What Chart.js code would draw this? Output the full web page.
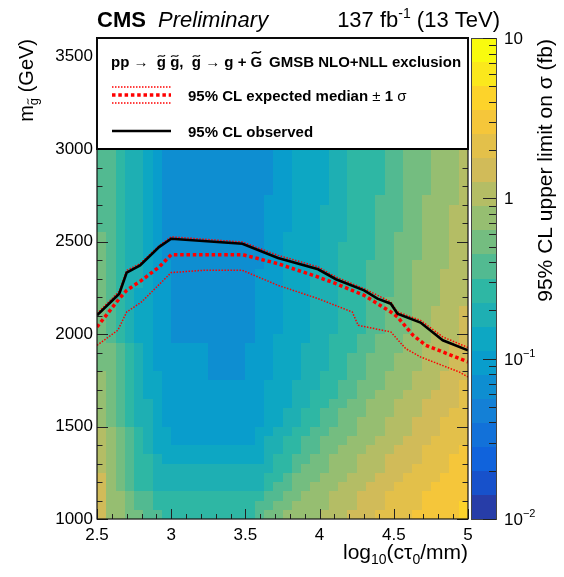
<!DOCTYPE html>
<html>
<head>
<meta charset="utf-8">
<title>Gluino lifetime limit</title>
<script src="https://cdn.jsdelivr.net/npm/chart.js@4.4.1/dist/chart.umd.min.js"></script>
<style>
  html, body { margin: 0; padding: 0; background: #fff; }
  canvas { display: block; }
</style>
</head>
<body>
<canvas id="limitChart" width="564" height="577"></canvas>
<script>
// axis ranges
const ctauRange = [2.5, 5];        // log10(ctau0/mm)
const massRange = [1000, 3000];    // heat map extent, GeV
const massAxisMax = 3600;
const massTicks = [1000, 1500, 2000, 2500, 3000, 3500];
const sigmaRange = [0.01, 10];     // colour axis, fb
const nBands = 20;
const bandDigits = "0123456789ABCDEFGHIJ";

// upper limit read off the picture as colour band (0 = lowest .. J = highest),
// one string per 50 GeV row (bottom row first), one char per 0.0625 in log10(ctau)
const limitBandRows = [
  "ECCBBAA9999999999ABBCCCCDDDEEEFFFFGGGGGH",
  "ECCBAA99999999999AABBCCCCDDDEEEFFFFGGGGH",
  "ECCBAA999999999999AABBCCCDDDEEEFFFFGGGGG",
  "ECBA998888888888889AABBCCCDDDEEEFFFFGGGG",
  "ECBA9988888888888899ABBBCCCDDDEEEFFFFGGG",
  "DCBA99888888888888899ABBBCCCDDDEEEFFFFGG",
  "DCBA99877777777777899AABBCCCDDDEEEEFFFGG",
  "DCBA987777777777778899AABBCCCDDDEEEFFFFG",
  "DCBA987766666666678899AABBBCCCDDDEEEFFFF",
  "DCBA9877666666666778899AABBBCCCDDDEEEFFF",
  "CBA988766666666666778899AABBCCCDDDEEEFFF",
  "CBA988766666666666778899AABBBCCCDDDEEEFF",
  "CBA9887666666666667778899AABBCCCDDDEEEEF",
  "CBA98776666666666677788999AABBCCCDDDEEEF",
  "CBA98776666666666677788899AABBBCCCDDDEEF",
  "CBA987766666555566677788999AABBCCCDDDEEE",
  "BBA987666666555566677788899AABBBCCCDDDEE",
  "BBA987666666555566677788899AABBBCCCDDDEE",
  "BBA9876666665555666777888999AABBBCCDDDEE",
  "BA98776655555555566777788999AABBBCCCDDDE",
  "BA987766555555555666777888999AABBBCCDDDE",
  "BA987766555555555666777888999AABBBCCDDDE",
  "BA987766555555555666777888999AABBBCCDDDE",
  "BA987766555555555666777888999AABBBCCCDDD",
  "BA987766555555555666777888999AAABBCCCDDD",
  "BA988766555555555666777888999AAABBCCCDDD",
  "BA988766555555555666777888999AAABBCCCDDD",
  "BA988766555555555566777788999AAABBCCCCDD",
  "BA9887655555555555667777889999AABBBCCCDD",
  "BA9887655555555555667777889999AABBBCCCDD",
  "BA9887655555555555667777888999AABBBCCCDD",
  "AA9887655555555555666777888999AAABBCCCDD",
  "AA9887655555555555666777888999AAABBCCCDD",
  "AA9887655555555555666777888999AAABBCCCDD",
  "AA9887655555555555666777788999AAABBCCCCD",
  "AA98876555555555555667777889999AABBBCCCD",
  "AA98876555555555555667777889999AABBBCCCD",
  "AA98876555555555555667777889999AABBBCCCD",
  "AA98876555555555555667777889999AABBBCCCD",
  "AA98876555555555555667777889999AABBBCCCD"
];

// exclusion contours
const obsCtau = [2.5, 2.65, 2.7, 2.79, 2.92, 3.0, 3.48, 3.72, 3.99, 4.11, 4.3, 4.39, 4.48, 4.525, 4.68, 4.83, 5.0];
const obsMass = [2101, 2218, 2332, 2371, 2471, 2515, 2488, 2411, 2350, 2296, 2236, 2191, 2164, 2110, 2062, 1966, 1912];

const expCtau = [2.5, 2.65, 2.7, 2.8, 2.92, 3.0, 3.48, 3.72, 3.99, 4.11, 4.3, 4.48, 4.525, 4.63, 4.715, 4.83, 5.0];
const expMass = [2038, 2191, 2236, 2290, 2363, 2429, 2429, 2380, 2308, 2272, 2209, 2119, 2092, 1993, 1939, 1903, 1849];

const expUpCtau = [2.5, 2.65, 2.7, 2.79, 2.92, 3.0, 3.48, 3.72, 3.99, 4.11, 4.3, 4.48, 4.525, 4.68, 4.83, 5.0];
const expUpMass = [2110, 2231, 2344, 2380, 2479, 2525, 2497, 2425, 2363, 2308, 2245, 2173, 2119, 2074, 1984, 1927];

const expDnCtau = [2.5, 2.64, 2.7, 2.8, 3.0, 3.21, 3.48, 3.72, 3.99, 4.22, 4.26, 4.48, 4.58, 4.68, 4.94, 5.0];
const expDnMass = [1939, 2020, 2119, 2173, 2332, 2344, 2344, 2263, 2191, 2119, 2047, 2011, 1921, 1876, 1795, 1768];

const FONT = "'Liberation Sans', Arial, Helvetica, sans-serif";
const RED = "#ff0000";

// ROOT kBird palette
const birdStops = [0, 0.125, 0.25, 0.375, 0.5, 0.625, 0.75, 0.875, 1];
const birdR = [0.2082, 0.0592, 0.0780, 0.0232, 0.1802, 0.5301, 0.8186, 0.9956, 0.9764];
const birdG = [0.1664, 0.3599, 0.5041, 0.6419, 0.7178, 0.7492, 0.7328, 0.7862, 0.9832];
const birdB = [0.5293, 0.8684, 0.8385, 0.7914, 0.6425, 0.4662, 0.3499, 0.1968, 0.0539];

function birdColor(t) {
  let i = 0;
  while (i < birdStops.length - 2 && t > birdStops[i + 1]) i++;
  const f = (t - birdStops[i]) / (birdStops[i + 1] - birdStops[i]);
  const mix = (arr) => Math.round(255 * (arr[i] + f * (arr[i + 1] - arr[i])));
  return `rgb(${mix(birdR)},${mix(birdG)},${mix(birdB)})`;
}

// fraction along the colour axis -> colour of its contour band
function bandColor(frac) {
  const band = Math.min(nBands - 1, Math.max(0, Math.floor(frac * nBands + 1e-6)));
  const idx = Math.floor((band + 0.99) * 255 / nBands);
  return birdColor(idx / 254);
}

function bandValue(ch) {
  const L = bandDigits.indexOf(ch);
  return Math.pow(10, -2 + 3 * (L + 0.5) / nBands);
}

const toPoints = (xs, ys) => xs.map((v, i) => ({ x: v, y: ys[i] }));

function drawTilde(ctx, cx, cy, w) {
  const a = w * 0.12;
  ctx.save();
  ctx.lineWidth = Math.max(1, w * 0.15);
  ctx.strokeStyle = ctx.fillStyle;
  ctx.beginPath();
  ctx.moveTo(cx - w / 2, cy + a);
  ctx.bezierCurveTo(cx - w / 6, cy - 2.4 * a, cx + w / 6, cy + 2.4 * a, cx + w / 2, cy - a);
  ctx.stroke();
  ctx.restore();
}

// text made of runs with their own font / vertical shift / tilde
function drawRuns(ctx, x, y, runs, align) {
  let width = 0;
  runs.forEach(r => { ctx.font = r.font; width += ctx.measureText(r.t).width; });
  let cx = align === "right" ? x - width : x;
  ctx.textAlign = "left";
  ctx.textBaseline = "alphabetic";
  runs.forEach(r => {
    ctx.font = r.font;
    const w = ctx.measureText(r.t).width;
    const by = y + (r.dy || 0);
    ctx.fillText(r.t, cx, by);
    if (r.tilde) drawTilde(ctx, cx + w / 2, by - r.tilde, w * 0.8);
    cx += w;
  });
  return cx;
}

const heatmapPlugin = {
  id: "heatmap",
  beforeDatasetsDraw(chart) {
    const { ctx, scales: { x, y, z } } = chart;
    const nRows = limitBandRows.length;
    const nCols = limitBandRows[0].length;
    const dx = (ctauRange[1] - ctauRange[0]) / nCols;
    const dy = (massRange[1] - massRange[0]) / nRows;
    ctx.save();
    limitBandRows.forEach((row, k) => {
      for (let j = 0; j < nCols; j++) {
        const v = bandValue(row[j] || row[row.length - 1]);
        const frac = (z.bottom - z.getPixelForValue(v)) / (z.bottom - z.top);
        ctx.fillStyle = bandColor(frac);
        const x0 = Math.round(x.getPixelForValue(ctauRange[0] + j * dx));
        const x1 = Math.round(x.getPixelForValue(ctauRange[0] + (j + 1) * dx));
        const y0 = Math.round(y.getPixelForValue(massRange[0] + (k + 1) * dy));
        const y1 = Math.round(y.getPixelForValue(massRange[0] + k * dy));
        ctx.fillRect(x0, y0, x1 - x0, y1 - y0);
      }
    });
    ctx.restore();
  },
  afterDatasetsDraw(chart) {
    const { ctx, chartArea: ca, scales: { x, y } } = chart;
    ctx.save();
    // inward ticks
    ctx.strokeStyle = "#222";
    ctx.lineWidth = 1;
    ctx.beginPath();
    for (let i = 25; i <= 50; i++) {
      const px = Math.round(x.getPixelForValue(i / 10)) + 0.5;
      const len = i % 5 === 0 ? 10 : 5;
      ctx.moveTo(px, ca.bottom);
      ctx.lineTo(px, ca.bottom - len);
    }
    for (let m = 1000; m <= massAxisMax; m += 100) {
      const py = Math.round(y.getPixelForValue(m)) + 0.5;
      const len = m % 500 === 0 ? 11 : 5.5;
      ctx.moveTo(ca.left, py);
      ctx.lineTo(ca.left + len, py);
      ctx.moveTo(ca.right, py);
      ctx.lineTo(ca.right - len, py);
    }
    ctx.stroke();

    // legend box
    const boxBottom = y.getPixelForValue(massRange[1]);
    ctx.fillStyle = "#fff";
    ctx.fillRect(ca.left, ca.top, ca.right - ca.left, boxBottom - ca.top);
    ctx.strokeStyle = "#000";
    ctx.lineWidth = 2;
    ctx.strokeRect(ca.left, ca.top, ca.right - ca.left, boxBottom - ca.top);

    const sx0 = ca.left + 15, sx1 = ca.left + 74, tx = ca.left + 91;
    const fs = 15;
    const bold = `bold ${fs}px ${FONT}`;
    const norm = `${fs}px ${FONT}`;
    ctx.fillStyle = "#000";
    const l1 = ca.top + 29;
    drawRuns(ctx, ca.left + 14, l1, [
      { t: "pp ", font: bold },
      { t: "\u2192", font: norm },
      { t: "  ", font: bold },
      { t: "g", font: bold, tilde: 11 },
      { t: " ", font: bold },
      { t: "g", font: bold, tilde: 11 },
      { t: ",  ", font: bold },
      { t: "g", font: bold, tilde: 11 },
      { t: " ", font: bold },
      { t: "\u2192", font: norm },
      { t: " g + ", font: bold },
      { t: "G", font: bold, tilde: 14.5 }
    ]);
    drawRuns(ctx, ca.left + 172, l1, [{ t: "GMSB NLO+NLL exclusion", font: bold }]);

    // expected +-1 sigma sample
    const l2 = ca.top + 57;
    ctx.strokeStyle = RED;
    ctx.lineWidth = 1.5;
    ctx.setLineDash([1.5, 1.5]);
    [l2 - 8, l2 + 8].forEach(yy => {
      ctx.beginPath(); ctx.moveTo(sx0, yy); ctx.lineTo(sx1, yy); ctx.stroke();
    });
    ctx.lineWidth = 3.5;
    ctx.setLineDash([3.5, 2.8]);
    ctx.beginPath(); ctx.moveTo(sx0, l2); ctx.lineTo(sx1, l2); ctx.stroke();
    ctx.setLineDash([]);
    drawRuns(ctx, tx, l2 + 5.5, [
      { t: "95% CL expected median ", font: bold },
      { t: "\u00b1", font: norm },
      { t: " 1 ", font: bold },
      { t: "\u03c3", font: norm }
    ]);

    // observed sample
    const l3 = ca.top + 93;
    ctx.strokeStyle = "#000";
    ctx.lineWidth = 2.6;
    ctx.beginPath(); ctx.moveTo(sx0, l3); ctx.lineTo(sx1, l3); ctx.stroke();
    drawRuns(ctx, tx, l3 + 5.5, [{ t: "95% CL observed", font: bold }]);

    // frame
    ctx.strokeStyle = "#111";
    ctx.lineWidth = 1.2;
    ctx.strokeRect(ca.left, ca.top, ca.right - ca.left, ca.bottom - ca.top);
    ctx.restore();
  },
  afterDraw(chart) {
    const { ctx, chartArea: ca, scales: { z } } = chart;
    ctx.save();
    // colour bar
    const cbL = ca.right + 3, cbR = ca.right + 28;
    const ratio = sigmaRange[1] / sigmaRange[0];
    for (let b = 0; b < nBands; b++) {
      const yLo = Math.round(z.getPixelForValue(sigmaRange[0] * Math.pow(ratio, b / nBands)));
      const yHi = Math.round(z.getPixelForValue(sigmaRange[0] * Math.pow(ratio, (b + 1) / nBands)));
      ctx.fillStyle = bandColor((b + 0.5) / nBands);
      ctx.fillRect(cbL, yHi, cbR - cbL, yLo - yHi);
    }
    ctx.strokeStyle = "#444";
    ctx.lineWidth = 1;
    ctx.strokeRect(cbL + 0.5, z.top + 0.5, cbR - cbL, z.bottom - z.top);
    ctx.strokeStyle = "#222";
    ctx.beginPath();
    for (let e = -2; e <= 1; e++) {
      for (let d = 1; d <= 9; d++) {
        const v = d * Math.pow(10, e);
        if (v > sigmaRange[1] * 1.0001) break;
        const py = Math.round(z.getPixelForValue(v)) + 0.5;
        const len = d === 1 ? 13 : 7;
        ctx.moveTo(cbR, py);
        ctx.lineTo(cbR - len, py);
      }
    }
    ctx.stroke();

    // colour bar labels
    ctx.fillStyle = "#000";
    const lab = (v, runs) => {
      const py = z.getPixelForValue(v);
      drawRuns(ctx, cbR + 8, py + 6, runs);
    };
    lab(10, [{ t: "10", font: `17px ${FONT}` }]);
    lab(1, [{ t: "1", font: `17px ${FONT}` }]);
    lab(0.1, [{ t: "10", font: `17px ${FONT}` }, { t: "\u22121", font: `11px ${FONT}`, dy: -8 }]);
    lab(0.01, [{ t: "10", font: `17px ${FONT}` }, { t: "\u22122", font: `11px ${FONT}`, dy: -8 }]);

    // colour axis title
    ctx.save();
    ctx.translate(552, ca.top + 1);
    ctx.rotate(-Math.PI / 2);
    drawRuns(ctx, 0, 0, [{ t: "95% CL upper limit on \u03c3 (fb)", font: `21px ${FONT}` }], "right");
    ctx.restore();

    // y title
    ctx.save();
    ctx.translate(33, ca.top + 1);
    ctx.rotate(-Math.PI / 2);
    drawRuns(ctx, 0, 0, [
      { t: "m", font: `20px ${FONT}` },
      { t: "g", font: `13px ${FONT}`, dy: 5, tilde: 10 },
      { t: " (GeV)", font: `20px ${FONT}` }
    ], "right");
    ctx.restore();

    // x title
    drawRuns(ctx, ca.right, 559, [
      { t: "log", font: `21px ${FONT}` },
      { t: "10", font: `14px ${FONT}`, dy: 5 },
      { t: "(c\u03c4", font: `21px ${FONT}` },
      { t: "0", font: `14px ${FONT}`, dy: 5 },
      { t: "/mm)", font: `21px ${FONT}` }
    ], "right");

    // header
    drawRuns(ctx, ca.left, 27, [
      { t: "CMS", font: `bold 22px ${FONT}` },
      { t: "  ", font: `22px ${FONT}` },
      { t: "Preliminary", font: `italic 22px ${FONT}` }
    ]);
    drawRuns(ctx, 500, 27, [
      { t: "137 fb", font: `22px ${FONT}` },
      { t: "-1", font: `14px ${FONT}`, dy: -9 },
      { t: " (13 TeV)", font: `22px ${FONT}` }
    ], "right");
    ctx.restore();
  }
};

new Chart(document.getElementById("limitChart").getContext("2d"), {
  type: "scatter",
  data: {
    datasets: [
      {
        label: "95% CL observed",
        data: toPoints(obsCtau, obsMass),
        showLine: true,
        borderColor: "#000",
        borderWidth: 2.6,
        pointRadius: 0,
        order: 0
      },
      {
        label: "95% CL expected median",
        data: toPoints(expCtau, expMass),
        showLine: true,
        borderColor: RED,
        borderWidth: 3.5,
        borderDash: [3.5, 2.8],
        pointRadius: 0,
        order: 1
      },
      {
        label: "expected +1 sigma",
        data: toPoints(expUpCtau, expUpMass),
        showLine: true,
        borderColor: RED,
        borderWidth: 1.5,
        borderDash: [1.5, 1.5],
        pointRadius: 0,
        order: 2
      },
      {
        label: "expected -1 sigma",
        data: toPoints(expDnCtau, expDnMass),
        showLine: true,
        borderColor: RED,
        borderWidth: 1.5,
        borderDash: [1.5, 1.5],
        pointRadius: 0,
        order: 2
      }
    ]
  },
  options: {
    responsive: false,
    devicePixelRatio: 1,
    animation: false,
    layout: { padding: { top: 38, left: 0, right: 0, bottom: 0 } },
    plugins: { legend: { display: false }, tooltip: { enabled: false } },
    scales: {
      x: {
        type: "linear",
        position: "bottom",
        min: ctauRange[0],
        max: ctauRange[1],
        border: { display: false },
        grid: { display: false, drawTicks: false },
        ticks: {
          stepSize: 0.5,
          autoSkip: false,
          maxRotation: 0,
          padding: 6,
          color: "#000",
          font: { family: FONT, size: 17 },
          callback: (v) => String(Math.round(v * 10) / 10)
        },
        afterFit: (s) => { s.height = 58; }
      },
      y: {
        type: "linear",
        position: "left",
        min: massRange[0],
        max: massAxisMax,
        border: { display: false },
        grid: { display: false, drawTicks: false },
        afterBuildTicks: (s) => { s.ticks = massTicks.map(v => ({ value: v })); },
        ticks: {
          autoSkip: false,
          padding: 4,
          color: "#000",
          font: { family: FONT, size: 17 },
          callback: (v) => String(Math.round(v))
        },
        afterFit: (s) => { s.width = 97; }
      },
      z: {
        type: "logarithmic",
        position: "right",
        min: sigmaRange[0],
        max: sigmaRange[1],
        border: { display: false },
        grid: { display: false, drawTicks: false },
        ticks: { display: false },
        afterFit: (s) => { s.width = 96; }
      }
    }
  },
  plugins: [heatmapPlugin]
});
</script>
</body>
</html>
